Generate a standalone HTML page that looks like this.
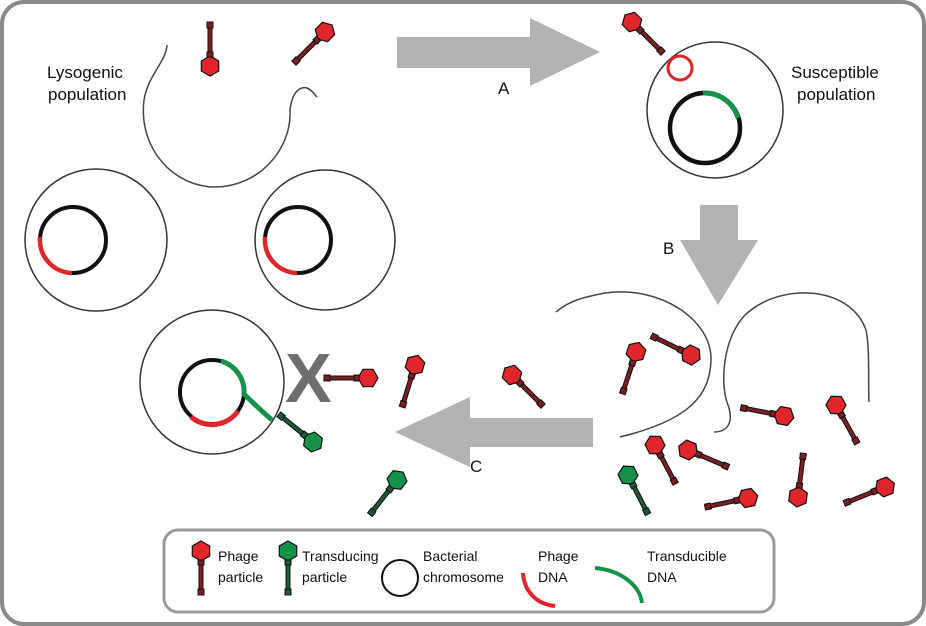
<!DOCTYPE html>
<html><head><style>
html,body{margin:0;padding:0;background:#fff;}
svg{display:block;}
text{font-family:"Liberation Sans",sans-serif;font-size:17px;fill:#111;}
text.lg{font-size:14px;}
</style></head><body>
<svg width="926" height="626" viewBox="0 0 926 626" xmlns="http://www.w3.org/2000/svg">
<defs>
<g id="pr">
<polygon points="0,-10 8.7,-5 8.7,5 0,10 -8.7,5 -8.7,-5" fill="#e0262a" stroke="#111" stroke-width="1.2"/>
<rect x="-3" y="9" width="6" height="5" fill="#7a1f22" stroke="#111" stroke-width="1"/>
<rect x="-2" y="14" width="4" height="25" fill="#7a1f22" stroke="#111" stroke-width="1"/>
<rect x="-3" y="38" width="6" height="6" fill="#7a1f22" stroke="#111" stroke-width="1"/>
</g>
<g id="pg">
<polygon points="0,-10 8.7,-5 8.7,5 0,10 -8.7,5 -8.7,-5" fill="#14924a" stroke="#111" stroke-width="1.2"/>
<rect x="-3" y="9" width="6" height="5" fill="#1d5a35" stroke="#111" stroke-width="1"/>
<rect x="-2" y="14" width="4" height="25" fill="#1d5a35" stroke="#111" stroke-width="1"/>
<rect x="-3" y="38" width="6" height="6" fill="#1d5a35" stroke="#111" stroke-width="1"/>
</g>
</defs>
<rect x="2" y="2" width="922" height="622" rx="22" fill="#fff" stroke="#8a8a8a" stroke-width="4"/>

<g fill="#b3b3b3">
<rect x="397" y="37" width="135" height="31"/><polygon points="530,18 600,52 530,86"/>
<rect x="700" y="205" width="38" height="37"/><polygon points="680,240 758,240 718,305"/>
<rect x="468" y="418" width="125" height="29"/><polygon points="470,397 395,432 470,467"/>
</g>
<text x="498" y="94">A</text>
<text x="663" y="254">B</text>
<text x="470" y="472">C</text>

<text x="47" y="78">Lysogenic</text>
<text x="48" y="100">population</text>
<path d="M167,45 C166,62 148,75 144,100 C138,150 175,187 215,187 C258,187 292,150 290,110 C292,92 300,86 307,88 C312,90 315,95 317,97" fill="none" stroke="#444" stroke-width="1.5"/>
<use href="#pr" transform="translate(210,66) rotate(180)"/>
<use href="#pr" transform="translate(325,32) rotate(45)"/>

<circle cx="96" cy="240" r="71" fill="none" stroke="#333" stroke-width="1.5"/>
<circle cx="73" cy="240" r="33" fill="none" stroke="#111" stroke-width="4"/>
<path d="M40,237 A33,33 0 0 0 72,273" fill="none" stroke="#e0262a" stroke-width="4.5"/>
<circle cx="325" cy="240" r="70" fill="none" stroke="#333" stroke-width="1.5"/>
<circle cx="298" cy="240" r="33" fill="none" stroke="#111" stroke-width="4"/>
<path d="M265,237 A33,33 0 0 0 297,273" fill="none" stroke="#e0262a" stroke-width="4.5"/>

<circle cx="212" cy="382" r="72" fill="none" stroke="#333" stroke-width="1.5"/>
<circle cx="212" cy="392" r="32" fill="none" stroke="#111" stroke-width="4"/>
<path d="M191,417 A32,32 0 0 0 238,411" fill="none" stroke="#e0262a" stroke-width="5"/>
<path d="M221,361 A32,32 0 0 1 244,394 C250,400 258,408 272,420" fill="none" stroke="#14924a" stroke-width="5"/>
<use href="#pg" transform="translate(313,442) rotate(129)"/>
<text x="285" y="402" style="font-size:70px;font-weight:bold;fill:#6e6e6e">X</text>
<use href="#pr" transform="translate(368,378) rotate(90)"/>
<use href="#pr" transform="translate(415,365) rotate(17)"/>
<use href="#pr" transform="translate(512,375) rotate(-45)"/>
<use href="#pg" transform="translate(397,480) rotate(38)"/>

<text x="791" y="78">Susceptible</text>
<text x="797" y="100">population</text>
<circle cx="715" cy="110" r="68" fill="none" stroke="#333" stroke-width="1.5"/>
<circle cx="705" cy="128" r="35" fill="none" stroke="#111" stroke-width="4.5"/>
<path d="M703,93 A35,35 0 0 1 738,118" fill="none" stroke="#14924a" stroke-width="5"/>
<circle cx="680" cy="68" r="12" fill="none" stroke="#e0262a" stroke-width="3"/>
<use href="#pr" transform="translate(632,22) rotate(-45)"/>

<path d="M556,312 C570,300 585,297 605,293 C660,285 712,320 711,360 C710,395 690,420 620,437" fill="none" stroke="#444" stroke-width="1.5"/>
<path d="M714,432 C725,432 735,425 728,405 C720,385 722,340 745,315 C780,282 850,285 866,330 C870,350 868,380 869,402" fill="none" stroke="#444" stroke-width="1.5"/>
<use href="#pr" transform="translate(636,352) rotate(18)"/>
<use href="#pr" transform="translate(691,355) rotate(116)"/>
<use href="#pr" transform="translate(784,416) rotate(101)"/>
<use href="#pr" transform="translate(836,405) rotate(-29)"/>
<use href="#pr" transform="translate(655,445) rotate(-28)"/>
<use href="#pr" transform="translate(688,450) rotate(-67)"/>
<use href="#pg" transform="translate(628,475) rotate(-27)"/>
<use href="#pr" transform="translate(748,498) rotate(78)"/>
<use href="#pr" transform="translate(798,497) rotate(-173)"/>
<use href="#pr" transform="translate(885,487) rotate(68)"/>

<rect x="164" y="530" width="610" height="82" rx="14" fill="#fff" stroke="#9a9a9a" stroke-width="3"/>
<use href="#pr" transform="translate(201,551)"/>
<text class="lg" x="218" y="561">Phage</text><text class="lg" x="218" y="582">particle</text>
<use href="#pg" transform="translate(288,551)"/>
<text class="lg" x="302" y="561">Transducing</text><text class="lg" x="302" y="582">particle</text>
<circle cx="400" cy="578" r="18" fill="none" stroke="#111" stroke-width="2"/>
<text class="lg" x="423" y="561">Bacterial</text><text class="lg" x="423" y="582">chromosome</text>
<path d="M523,573 C524,590 535,604 555,606" fill="none" stroke="#e0262a" stroke-width="4"/>
<text class="lg" x="538" y="561">Phage</text><text class="lg" x="538" y="582">DNA</text>
<path d="M595,568 C620,570 640,585 642,603" fill="none" stroke="#14924a" stroke-width="4"/>
<text class="lg" x="647" y="561">Transducible</text><text class="lg" x="647" y="582">DNA</text>
</svg>
</body></html>
